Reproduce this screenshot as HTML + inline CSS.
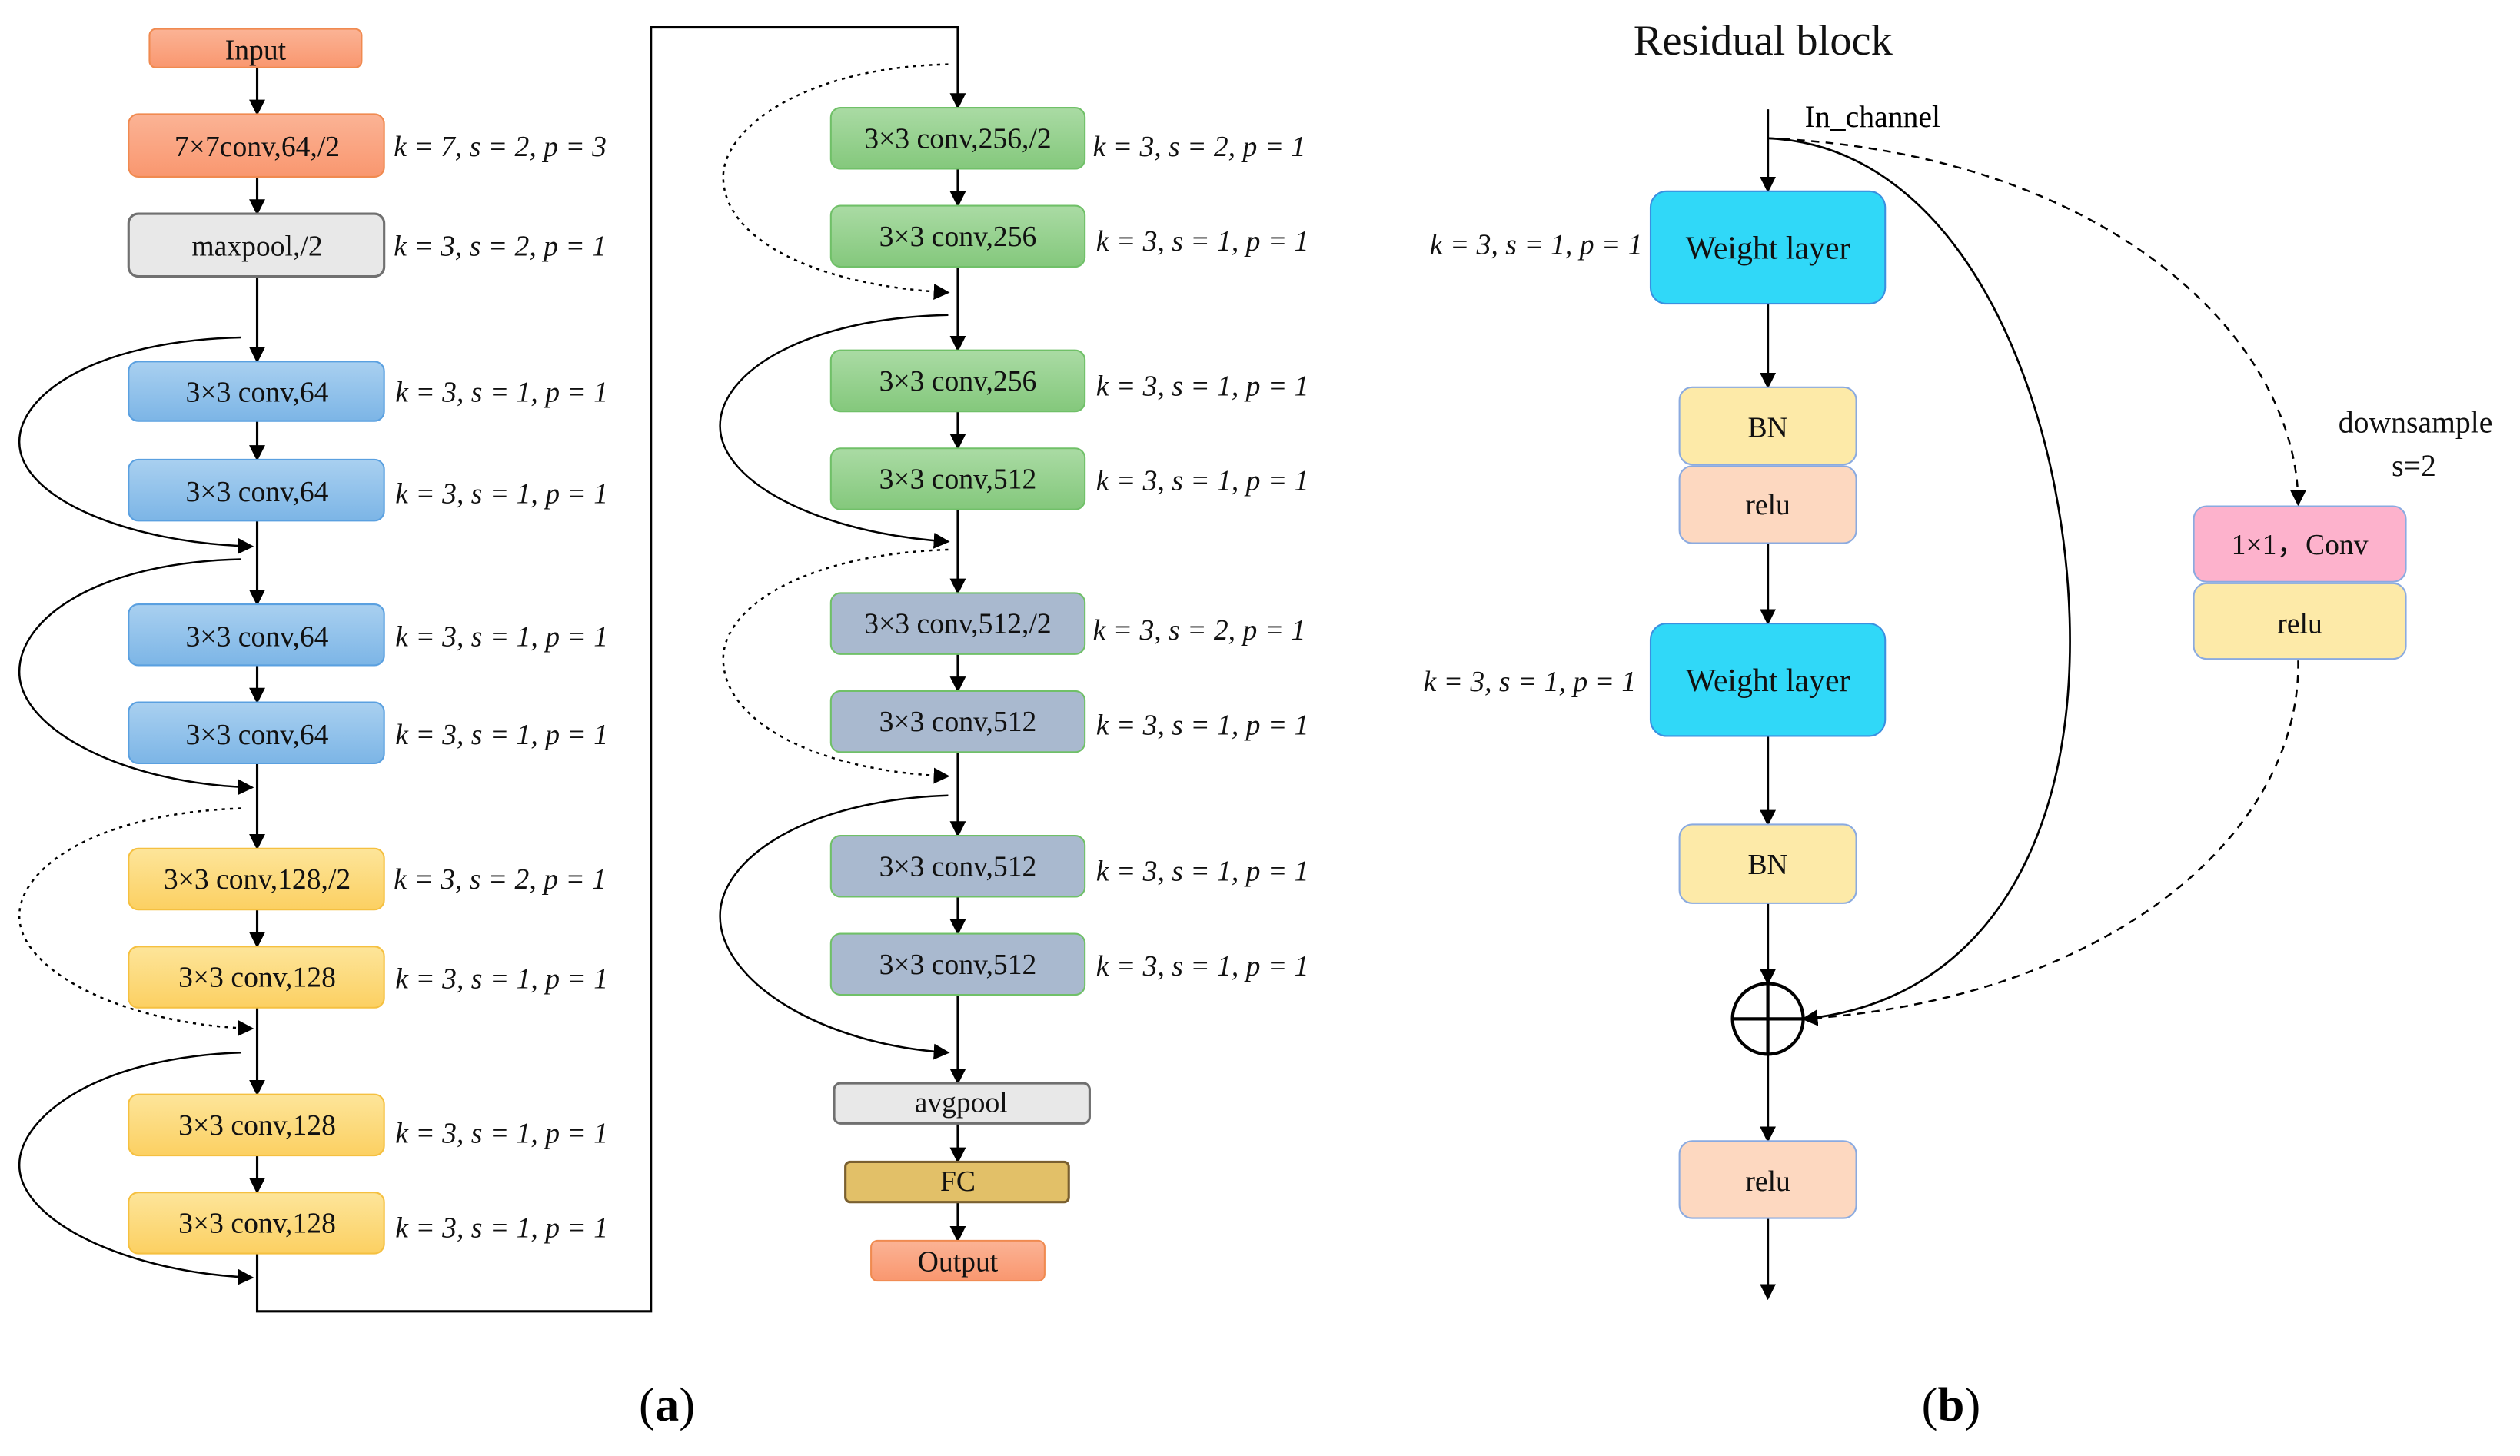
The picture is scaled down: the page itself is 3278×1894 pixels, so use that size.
<!DOCTYPE html>
<html><head><meta charset="utf-8"><style>html,body{margin:0;padding:0;background:#fff}svg{display:block}</style></head>
<body>
<svg width="3278" height="1894" viewBox="0 0 1568 906" xmlns="http://www.w3.org/2000/svg" font-family="Liberation Serif, serif">
<defs>
<marker id="ah" markerWidth="10" markerHeight="10" refX="9" refY="5" orient="auto" markerUnits="userSpaceOnUse"><path d="M0,0 L10,5 L0,10 z" fill="#000"/></marker>
<linearGradient id="gb" x1="0" y1="0" x2="0" y2="1"><stop offset="0" stop-color="#a9d0f0"/><stop offset="1" stop-color="#7cb5e6"/></linearGradient>
<linearGradient id="gy" x1="0" y1="0" x2="0" y2="1"><stop offset="0" stop-color="#fde59a"/><stop offset="1" stop-color="#fcd062"/></linearGradient>
<linearGradient id="gg" x1="0" y1="0" x2="0" y2="1"><stop offset="0" stop-color="#aadba4"/><stop offset="1" stop-color="#84c87c"/></linearGradient>
<linearGradient id="go" x1="0" y1="0" x2="0" y2="1"><stop offset="0" stop-color="#fbb395"/><stop offset="1" stop-color="#f9976f"/></linearGradient>
</defs>
<g fill="none" stroke="#000" stroke-width="1.5" marker-end="url(#ah)">
<line x1="160" y1="42" x2="160" y2="71"/>
<line x1="160" y1="110" x2="160" y2="133"/>
<line x1="160" y1="172" x2="160" y2="225"/>
<line x1="160" y1="262" x2="160" y2="286"/>
<line x1="160" y1="324" x2="160" y2="376"/>
<line x1="160" y1="414" x2="160" y2="437"/>
<line x1="160" y1="475" x2="160" y2="528"/>
<line x1="160" y1="566" x2="160" y2="589"/>
<line x1="160" y1="627" x2="160" y2="681"/>
<line x1="160" y1="719" x2="160" y2="742"/>
<polyline points="160,780 160,816 405,816 405,17 596,17 596,67"/>
<line x1="596" y1="105" x2="596" y2="128"/>
<line x1="596" y1="166" x2="596" y2="218"/>
<line x1="596" y1="256" x2="596" y2="279"/>
<line x1="596" y1="317" x2="596" y2="369"/>
<line x1="596" y1="407" x2="596" y2="430"/>
<line x1="596" y1="468" x2="596" y2="520"/>
<line x1="596" y1="558" x2="596" y2="581"/>
<line x1="596" y1="619" x2="596" y2="674"/>
<line x1="596" y1="699" x2="596" y2="723"/>
<line x1="596" y1="748" x2="596" y2="772"/>
<g stroke-width="1.2">
<path d="M150,210 C60,212 12,245 12,275 C12,310 80,338 157,340"/>
<path d="M150,348 C60,350 12,385 12,418 C12,455 80,488 157,490" />
<path stroke-dasharray="2,3" d="M150,503 C60,506 12,540 12,570 C12,605 80,638 157,640"/>
<path d="M150,655 C60,658 12,695 12,725 C12,760 80,792 157,795"/>
<path stroke-dasharray="2,3" d="M590,40 C500,42 450,80 450,110 C450,150 510,178 590,182"/>
<path d="M590,196 C500,198 448,232 448,265 C448,300 510,332 590,337"/>
<path stroke-dasharray="2,3" d="M590,342 C500,345 450,378 450,410 C450,450 510,480 590,483"/>
<path d="M590,495 C500,498 448,535 448,570 C448,610 510,650 590,655"/>
</g>
<line x1="1100" y1="68" x2="1100" y2="119"/>
<line x1="1100" y1="189" x2="1100" y2="241"/>
<line x1="1100" y1="338" x2="1100" y2="388"/>
<line x1="1100" y1="458" x2="1100" y2="513"/>
<line x1="1100" y1="562" x2="1100" y2="612"/>
<line x1="1100" y1="656" x2="1100" y2="710"/>
<line x1="1100" y1="758" x2="1100" y2="808"/>
<path stroke-width="1.3" d="M1100,86 C1240,92 1300,300 1286,440 C1274,560 1210,626 1122,634"/>
<path stroke-width="1.2" stroke-dasharray="5,4" d="M1100,86 C1310,95 1430,210 1430,314"/>
<path stroke-width="1.2" stroke-dasharray="5,4" d="M1430,411 C1432,520 1310,622 1122,634"/>
</g>
<circle cx="1100" cy="634" r="22" fill="none" stroke="#000" stroke-width="2"/>
<line x1="1078" y1="634" x2="1122" y2="634" stroke="#000" stroke-width="2"/>
<line x1="1100" y1="612" x2="1100" y2="656" stroke="#000" stroke-width="2"/>

<g font-size="18" text-anchor="middle" fill="#111">
<rect x="93" y="18" width="132" height="24" rx="4" fill="url(#go)" stroke="#f08a50"/><text x="159" y="37">Input</text>
<rect x="80" y="71" width="159" height="39" rx="6" fill="url(#go)" stroke="#f08a50"/><text x="160" y="97">7×7conv,64,/2</text>
<rect x="80" y="133" width="159" height="39" rx="6" fill="#e8e8e8" stroke="#707070" stroke-width="1.5"/><text x="160" y="159">maxpool,/2</text>
<g fill="url(#gb)" stroke="#5aa0e0">
<rect x="80" y="225" width="159" height="37" rx="6"/><rect x="80" y="286" width="159" height="38" rx="6"/>
<rect x="80" y="376" width="159" height="38" rx="6"/><rect x="80" y="437" width="159" height="38" rx="6"/></g>
<text x="160" y="250">3×3 conv,64</text><text x="160" y="312">3×3 conv,64</text><text x="160" y="402">3×3 conv,64</text><text x="160" y="463">3×3 conv,64</text>
<g fill="url(#gy)" stroke="#f5c040">
<rect x="80" y="528" width="159" height="38" rx="6"/><rect x="80" y="589" width="159" height="38" rx="6"/>
<rect x="80" y="681" width="159" height="38" rx="6"/><rect x="80" y="742" width="159" height="38" rx="6"/></g>
<text x="160" y="553">3×3 conv,128,/2</text><text x="160" y="614">3×3 conv,128</text><text x="160" y="706">3×3 conv,128</text><text x="160" y="767">3×3 conv,128</text>
<g fill="url(#gg)" stroke="#70c068">
<rect x="517" y="67" width="158" height="38" rx="6"/><rect x="517" y="128" width="158" height="38" rx="6"/>
<rect x="517" y="218" width="158" height="38" rx="6"/><rect x="517" y="279" width="158" height="38" rx="6"/></g>
<text x="596" y="92">3×3 conv,256,/2</text><text x="596" y="153">3×3 conv,256</text><text x="596" y="243">3×3 conv,256</text><text x="596" y="304">3×3 conv,512</text>
<g fill="#a9b9cf" stroke="#70c068">
<rect x="517" y="369" width="158" height="38" rx="6"/><rect x="517" y="430" width="158" height="38" rx="6"/>
<rect x="517" y="520" width="158" height="38" rx="6"/><rect x="517" y="581" width="158" height="38" rx="6"/></g>
<text x="596" y="394">3×3 conv,512,/2</text><text x="596" y="455">3×3 conv,512</text><text x="596" y="545">3×3 conv,512</text><text x="596" y="606">3×3 conv,512</text>
<rect x="519" y="674" width="159" height="25" rx="4" fill="#e8e8e8" stroke="#707070" stroke-width="1.5"/><text x="598" y="692">avgpool</text>
<rect x="526" y="723" width="139" height="25" rx="3" fill="#e2c068" stroke="#7a6030" stroke-width="1.5"/><text x="596" y="741">FC</text>
<rect x="542" y="772" width="108" height="25" rx="4" fill="url(#go)" stroke="#f08a50"/><text x="596" y="791">Output</text>
<rect x="1027" y="119" width="146" height="70" rx="10" fill="#30d8f8" stroke="#3a90e0"/><text x="1100" y="161" font-size="20">Weight layer</text>
<rect x="1045" y="241" width="110" height="48" rx="8" fill="#fdeaa8" stroke="#8aaae0"/><text x="1100" y="272">BN</text>
<rect x="1045" y="290" width="110" height="48" rx="8" fill="#fdd8c0" stroke="#8aaae0"/><text x="1100" y="320">relu</text>
<rect x="1027" y="388" width="146" height="70" rx="10" fill="#30d8f8" stroke="#3a90e0"/><text x="1100" y="430" font-size="20">Weight layer</text>
<rect x="1045" y="513" width="110" height="49" rx="8" fill="#fdeaa8" stroke="#8aaae0"/><text x="1100" y="544">BN</text>
<rect x="1045" y="710" width="110" height="48" rx="8" fill="#fdd8c0" stroke="#8aaae0"/><text x="1100" y="741">relu</text>
<rect x="1365" y="315" width="132" height="47" rx="8" fill="#fdb2cc" stroke="#8aaae0"/><text x="1431" y="345">1×1，Conv</text>
<rect x="1365" y="363" width="132" height="47" rx="8" fill="#fdeaa8" stroke="#8aaae0"/><text x="1431" y="394">relu</text>
<text x="1097" y="34" font-size="27">Residual block</text>
<text x="1503" y="269" font-size="19">downsample</text>
<text x="1502" y="296" font-size="19">s=2</text>
</g>
<text x="1123" y="79" font-size="19">In_channel</text>
<g font-size="18" font-style="italic" fill="#111">
<text x="245" y="97">k = 7, s = 2, p = 3</text>
<text x="245" y="159">k = 3, s = 2, p = 1</text>
<text x="246" y="250">k = 3, s = 1, p = 1</text>
<text x="246" y="313">k = 3, s = 1, p = 1</text>
<text x="246" y="402">k = 3, s = 1, p = 1</text>
<text x="246" y="463">k = 3, s = 1, p = 1</text>
<text x="245" y="553">k = 3, s = 2, p = 1</text>
<text x="246" y="615">k = 3, s = 1, p = 1</text>
<text x="246" y="711">k = 3, s = 1, p = 1</text>
<text x="246" y="770">k = 3, s = 1, p = 1</text>
<text x="680" y="97">k = 3, s = 2, p = 1</text>
<text x="682" y="156">k = 3, s = 1, p = 1</text>
<text x="682" y="246">k = 3, s = 1, p = 1</text>
<text x="682" y="305">k = 3, s = 1, p = 1</text>
<text x="680" y="398">k = 3, s = 2, p = 1</text>
<text x="682" y="457">k = 3, s = 1, p = 1</text>
<text x="682" y="548">k = 3, s = 1, p = 1</text>
<text x="682" y="607">k = 3, s = 1, p = 1</text>
<text x="1022" y="158" text-anchor="end">k = 3, s = 1, p = 1</text>
<text x="1018" y="430" text-anchor="end">k = 3, s = 1, p = 1</text>
</g>
<g font-size="30" text-anchor="middle" fill="#000">
<text x="415" y="884">(<tspan font-weight="bold">a</tspan>)</text>
<text x="1214" y="884">(<tspan font-weight="bold">b</tspan>)</text>
</g>
</svg>
</body></html>
